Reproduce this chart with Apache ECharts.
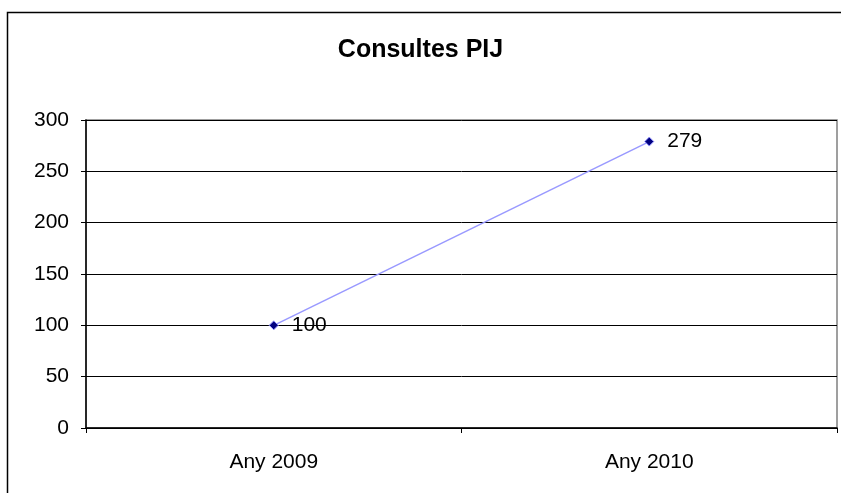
<!DOCTYPE html>
<html>
<head>
<meta charset="utf-8">
<script src="https://cdn.jsdelivr.net/npm/echarts@6/dist/echarts.min.js"></script>
<style>
  html, body { margin: 0; padding: 0; background: #fff; }
  #main { width: 841px; height: 493px; }
</style>
</head>
<body>
<div id="main"></div>
<script>
// dades
var categories = ['Any 2009', 'Any 2010'];
var consultes = [100, 279];
var yTicks = { min: 0, max: 300, step: 50 };

var chart = echarts.init(document.getElementById('main'));

var option = {
    animation: false,
    backgroundColor: '#fff',
    textStyle: { fontFamily: 'Liberation Sans, Arial, sans-serif' },
    title: {
        text: 'Consultes PIJ',
        left: 'center',
        top: 33,
        textStyle: { fontSize: 25, fontWeight: 'bold', color: '#000', fontFamily: 'Liberation Sans, Arial, sans-serif' }
    },
    graphic: [{
        type: 'rect',
        shape: { x: 7.5, y: 12.5, width: 845, height: 495 },
        style: { fill: 'none', stroke: '#000', lineWidth: 1.5 },
        silent: true
    }],
    grid: {
        left: 86, right: 4, top: 120, bottom: 65,
        show: true, borderColor: '#808080', borderWidth: 1.5,
        containLabel: false
    },
    xAxis: {
        type: 'category',
        data: categories,
        boundaryGap: true,
        axisLine: { lineStyle: { color: '#000', width: 1.5 } },
        axisTick: { show: true, length: 5, lineStyle: { color: '#000' } },
        axisLabel: { fontSize: 21, color: '#000', margin: 24 },
        splitLine: { show: false }
    },
    yAxis: {
        type: 'value',
        min: yTicks.min, max: yTicks.max, interval: yTicks.step,
        axisLine: { show: true, lineStyle: { color: '#000', width: 1.5 } },
        axisTick: { show: true, length: 5, lineStyle: { color: '#000' } },
        axisLabel: { fontSize: 21, color: '#000', margin: 17 },
        splitLine: { show: true, lineStyle: { color: '#000', width: 1 } }
    },
    series: [{
        type: 'line',
        data: consultes,
        symbol: 'diamond',
        symbolSize: 9,
        lineStyle: { color: '#9999ff', width: 1.5 },
        itemStyle: { color: '#000080', borderColor: '#9999ff', borderWidth: 1 },
        label: { show: true, position: 'right', distance: 13, fontSize: 21, color: '#000' }
    }]
};

chart.setOption(option);
</script>
</body>
</html>
